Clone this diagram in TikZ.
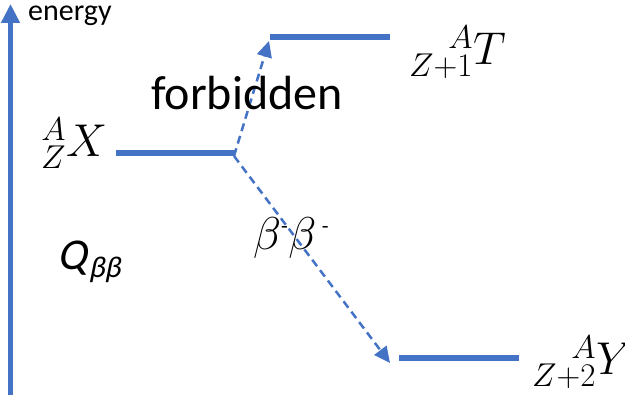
\RequirePackage{fix-cm}
\documentclass[tikz,border=0pt]{standalone}
\usepackage{amsmath}
\usepackage{mathtools}
\usepackage{fontspec}
\setmainfont{Carlito}
\newfontfamily\calit[FakeSlant=0.2]{Carlito}
\usetikzlibrary{arrows.meta}
\definecolor{oblue}{HTML}{4472C4}
\DeclareMathSizes{46}{46}{33}{24}
\begin{document}
\begin{tikzpicture}[x=1pt,y=-1pt,
  level/.style={draw=oblue,line width=5.5pt},
  trans/.style={draw=oblue,line width=2.5pt,dash pattern=on 8pt off 5pt,
    -{Triangle[length=16pt,width=15pt]}},
  mathlbl/.style={font=\fontsize{46}{52}\selectfont,inner sep=0pt,anchor=base west},
  txt/.style={inner sep=0pt,anchor=base west}]
\useasboundingbox (0,0) rectangle (625,395);
% energy axis
\coordinate (axb) at (10.5,395);
\coordinate (axt) at (10.5,4);
\draw[oblue,line width=4.5pt,-{Triangle[length=19pt,width=18pt]}] (axb) -- (axt);
\node[txt,font=\fontsize{30}{36}\selectfont] (en) at (28,21) {energy};
% levels
\coordinate (x1) at (116,153); \coordinate (x2) at (235,153);
\coordinate (t1) at (270,37);  \coordinate (t2) at (390,37);
\coordinate (y1) at (399,358); \coordinate (y2) at (519,358);
\draw[level] (x1) -- (x2);
\draw[level] (t1) -- (t2);
\draw[level] (y1) -- (y2);
% transitions
\coordinate (src) at (234,156);
\coordinate (ttip) at (269,41);
\coordinate (ytip) at (390,363);
\draw[trans] (src) -- (ttip);
\draw[trans] (src) -- (ytip);
% labels
\node[txt,font=\fontsize{48}{58}\selectfont] (fb) at (151,110) {forbidden};
\node[mathlbl] (lx) at (41,157) {${}^{\hphantom{Z}\mathllap{A}}_{Z}X$};
\node[mathlbl] (lt) at (409,65) {${}^{\hphantom{Z+1}\mathllap{A}}_{Z+1}T$};
\node[mathlbl] (ly) at (532,375) {${}^{\hphantom{Z+2}\mathllap{A}}_{Z+2}Y$};
\node[txt,font=\fontsize{44}{52}\calit] (q) at (57,270)
  {Q\kern2pt\raisebox{-8pt}{\fontsize{30}{36}\selectfont ββ}};
\node[mathlbl] (bb) at (253,250)
  {$\beta^{\text{\fontsize{22}{26}\selectfont -}}\beta^{\,\text{\fontsize{22}{26}\selectfont -}}$};
\end{tikzpicture}
\end{document}
